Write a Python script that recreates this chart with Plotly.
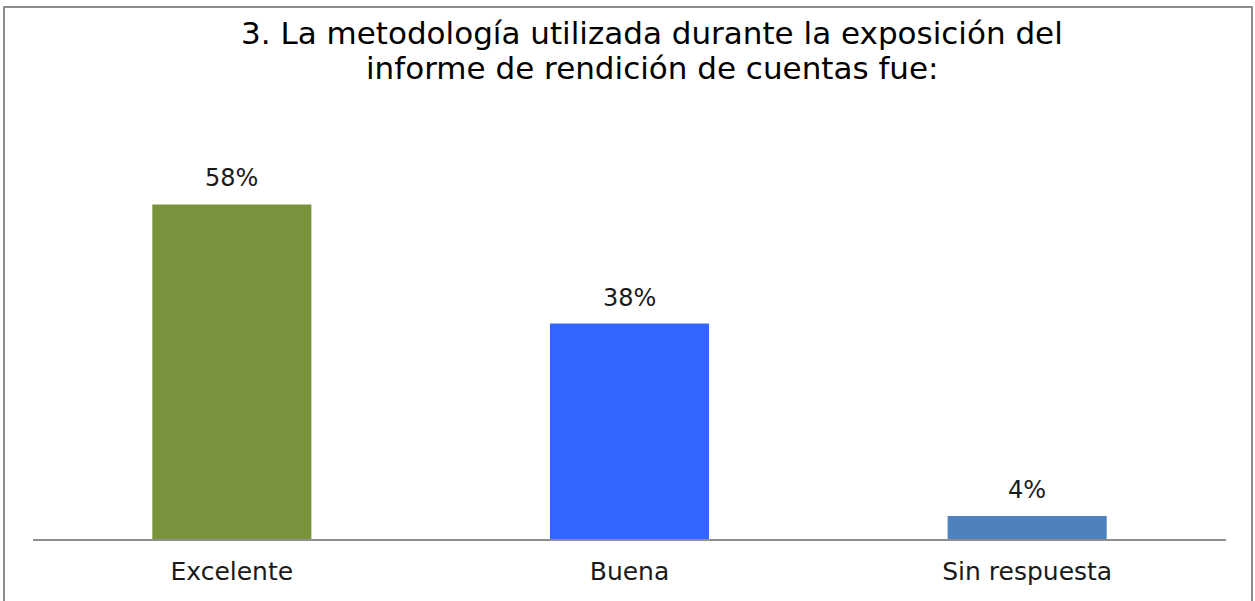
import plotly.graph_objects as go

categories = ["Excelente", "Buena", "Sin respuesta"]
values = [58.4, 37.6, 4.0]
colors = ["#77933C", "#3366FF", "#4F81BD"]
title_lines = ["3. La metodología utilizada durante la exposición del",
               "informe de rendición de cuentas fue:"]

W, H = 1255, 601
ML, MR, MT, MB = 33, 29, 138, 62
FONT = "DejaVu Sans, Liberation Sans, Arial, sans-serif"

fig = go.Figure(go.Bar(
    x=categories, y=values,
    marker=dict(color=colors, line=dict(width=0)),
    width=0.4, hoverinfo="x+y",
))

for c, v in zip(categories, values):
    fig.add_annotation(x=c, y=v, text=f"{v:.0f}%", showarrow=False,
                       yanchor="middle", yshift=26,
                       font=dict(family=FONT, size=24, color="#1a1a1a"))

px_x = lambda p: (p - ML) / (W - ML - MR)
px_y = lambda p: (H - MB - p) / (H - MT - MB)

for i, line in enumerate(title_lines):
    fig.add_annotation(text=line, xref="paper", yref="paper",
                       x=px_x(652), y=px_y([33, 68][i]), xanchor="center", yanchor="middle",
                       showarrow=False, borderpad=0,
                       font=dict(family=FONT, size=31, color="#000000"))

fig.add_shape(type="rect", xref="paper", yref="paper",
              x0=px_x(4), x1=px_x(1252), y0=px_y(7), y1=px_y(640),
              line=dict(color="#8c8c8c", width=2), fillcolor="rgba(0,0,0,0)")

fig.update_layout(
    width=W, height=H, margin=dict(l=ML, r=MR, t=MT, b=MB, pad=0),
    paper_bgcolor="white", plot_bgcolor="white", showlegend=False,
    bargap=0.6,
)
fig.update_xaxes(showline=True, linecolor="#8e8e8e", linewidth=2, ticks="",
                 tickfont=dict(family=FONT, size=25, color="#1a1a1a"),
                 ticklabelstandoff=9, automargin=False,
                 showgrid=False, zeroline=False)
fig.update_yaxes(visible=False, range=[0, 70])

fig.write_html("out.html", config={"displayModeBar": False},
               post_script="document.body.style.margin='0';")
